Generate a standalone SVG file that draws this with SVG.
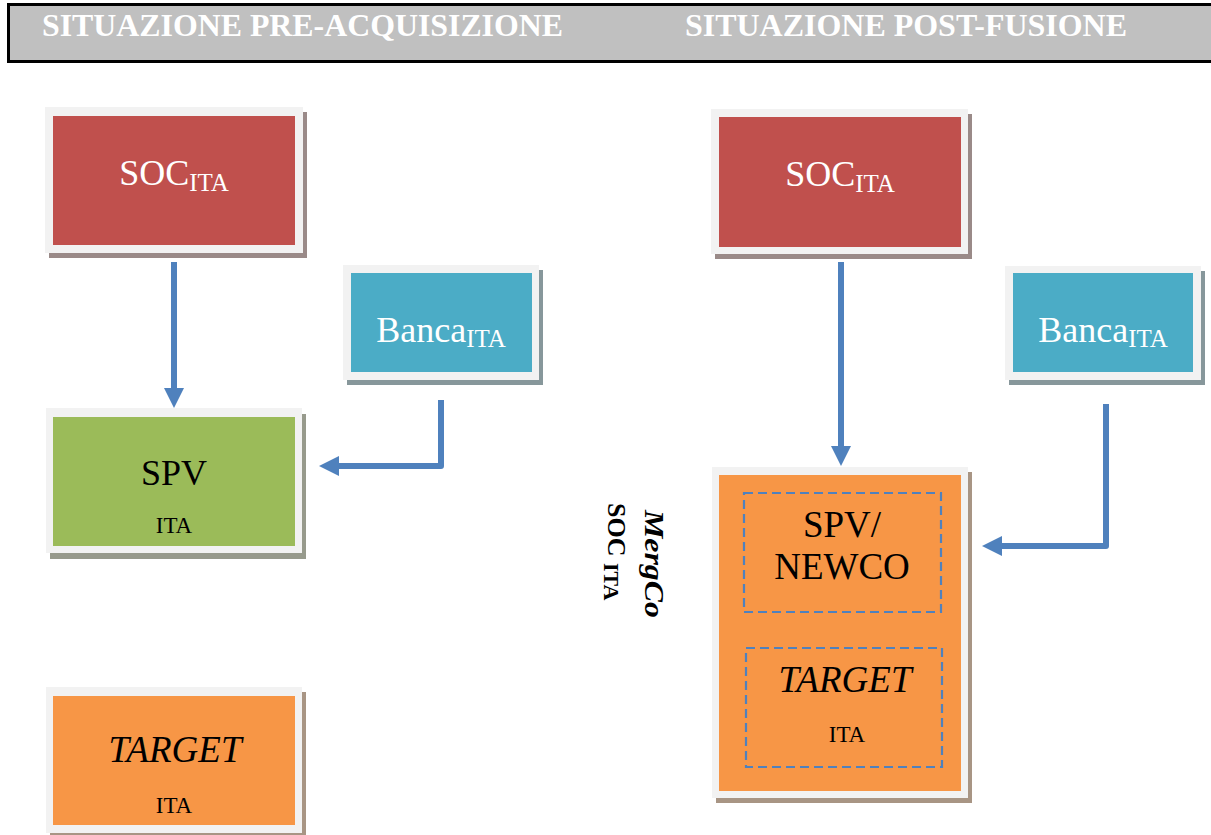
<svg xmlns="http://www.w3.org/2000/svg" width="1211" height="835" viewBox="0 0 1211 835">
<defs>
<style>
.t{font-family:"Liberation Serif","Times New Roman",serif;}
.hdr{font-family:"Liberation Serif","Times New Roman",serif;font-weight:bold;fill:#FFFFFF;font-size:32px;}
.frame{fill:#F2F2F2;}
.w{fill:#FFFFFF;}
.k{fill:#000000;}
.conn{fill:none;stroke:#4F81BD;stroke-width:6;stroke-linejoin:round;}
.dash{fill:none;stroke:#4F81BD;stroke-width:2.2;stroke-dasharray:9 5;}
</style>
<marker id="ah" markerUnits="userSpaceOnUse" viewBox="0 0 20 20" markerWidth="20" markerHeight="20" refX="0" refY="10" orient="auto">
<path d="M0,0 L20,10 L0,20 z" fill="#4F81BD"/>
</marker>
<clipPath id="rotclip"><rect x="590" y="480" width="90" height="142"/></clipPath>
</defs>
<rect width="1211" height="835" fill="#FFFFFF"/>

<g id="header">
<rect x="8.5" y="4.5" width="1210" height="57" fill="#C0C0C0" stroke="#000000" stroke-width="3"/>
<text class="hdr" x="42" y="36" textLength="521" lengthAdjust="spacingAndGlyphs">SITUAZIONE PRE-ACQUISIZIONE</text>
<text class="hdr" x="685" y="36" textLength="442" lengthAdjust="spacingAndGlyphs">SITUAZIONE POST-FUSIONE</text>
</g>

<g id="soc-left">
<rect x="49" y="112" width="258" height="146" fill="#9A8A88"/>
<rect class="frame" x="45" y="107" width="258" height="146"/>
<rect x="53" y="116" width="242" height="129" fill="#C0504D"/>
<text class="t w" x="174" y="185" font-size="36" text-anchor="middle">SOC<tspan font-size="25" dy="6">ITA</tspan></text>
</g>

<g id="banca-left">
<rect x="347" y="270" width="196" height="115" fill="#87979B"/>
<rect class="frame" x="343" y="265" width="196" height="115"/>
<rect x="351" y="273" width="181" height="99" fill="#4BACC6"/>
<text class="t w" x="441" y="342" font-size="36" text-anchor="middle">Banca<tspan font-size="25" dy="5">ITA</tspan></text>
</g>

<g id="spv-left">
<rect x="50" y="414" width="256" height="145" fill="#979A8C"/>
<rect class="frame" x="46" y="408" width="256" height="145"/>
<rect x="53" y="417" width="242" height="129" fill="#9BBB59"/>
<text class="t k" x="174" y="485" font-size="36" text-anchor="middle">SPV</text>
<text class="t k" x="174" y="533" font-size="23" text-anchor="middle">ITA</text>
</g>

<g id="target-left">
<rect x="50" y="692" width="256" height="146" fill="#A89584"/>
<rect class="frame" x="46" y="687" width="256" height="146"/>
<rect x="53" y="696" width="242" height="129" fill="#F79646"/>
<text class="t k" x="175" y="762" font-size="37" font-style="italic" text-anchor="middle">TARGET</text>
<text class="t k" x="174" y="813" font-size="23" text-anchor="middle">ITA</text>
</g>

<g id="soc-right">
<rect x="715" y="114" width="257" height="145" fill="#9A8A88"/>
<rect class="frame" x="711" y="109" width="257" height="145"/>
<rect x="719" y="117" width="242" height="130" fill="#C0504D"/>
<text class="t w" x="840" y="186" font-size="36" text-anchor="middle">SOC<tspan font-size="25" dy="6">ITA</tspan></text>
</g>

<g id="banca-right">
<rect x="1009" y="271" width="196" height="114" fill="#87979B"/>
<rect class="frame" x="1005" y="266" width="196" height="114"/>
<rect x="1013" y="273" width="180" height="99" fill="#4BACC6"/>
<text class="t w" x="1103" y="342" font-size="36" text-anchor="middle">Banca<tspan font-size="25" dy="5">ITA</tspan></text>
</g>

<g id="mergco">
<rect x="716" y="472" width="256" height="331" fill="#A89584"/>
<rect class="frame" x="712" y="467" width="256" height="331"/>
<rect x="719" y="475" width="242" height="316" fill="#F79646"/>
<rect class="dash" x="744" y="493" width="197" height="119"/>
<text class="t k" x="842" y="537" font-size="37" text-anchor="middle">SPV/</text>
<text class="t k" x="842" y="579" font-size="37" text-anchor="middle">NEWCO</text>
<rect class="dash" x="746" y="648" width="196" height="119"/>
<text class="t k" x="845" y="692" font-size="37" font-style="italic" text-anchor="middle">TARGET</text>
<text class="t k" x="847" y="742" font-size="23" text-anchor="middle">ITA</text>
</g>

<g id="mergco-label" clip-path="url(#rotclip)">
<text class="t k" transform="translate(645,510) rotate(90)" font-size="27" font-weight="bold" font-style="italic" textLength="108" lengthAdjust="spacingAndGlyphs">MergCo</text>
<text class="t k" transform="translate(608,503) rotate(90)" font-size="26" font-weight="bold">SOC <tspan font-size="22" dy="4">ITA</tspan></text>
</g>

<g id="connectors">
<path class="conn" d="M174,262 L174,388" marker-end="url(#ah)"/>
<path class="conn" d="M441,400 L441,466 L339,466" marker-end="url(#ah)"/>
<path class="conn" d="M841,262 L841,446" marker-end="url(#ah)"/>
<path class="conn" d="M1106,404 L1106,546 L1002,546" marker-end="url(#ah)"/>
</g>
</svg>
